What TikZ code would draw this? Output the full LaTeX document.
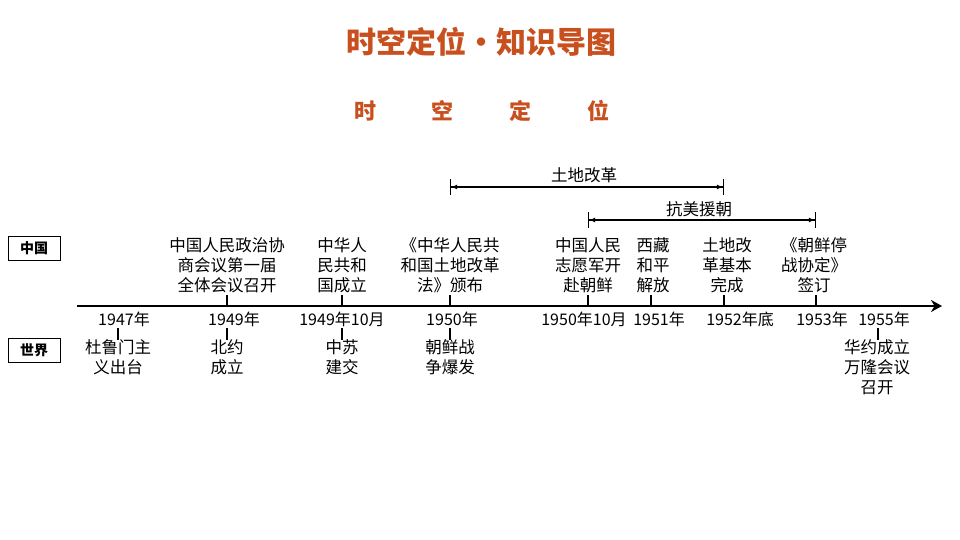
\documentclass[tikz,border=0pt]{standalone}
\usepackage{fontspec}
\setmainfont{Noto Sans CJK SC}
\usetikzlibrary{arrows.meta}
\definecolor{titlec}{RGB}{200,80,30}
\begin{document}
\begin{tikzpicture}[x=1pt,y=-1pt,
 ev/.style={font=\fontsize{16.5}{20}\selectfont,align=center,inner sep=0pt},
 yr/.style={font=\fontsize{16}{18}\selectfont,inner sep=0pt},
 lbox/.style={draw,line width=0.8pt,minimum width=52pt,minimum height=24pt,inner sep=0pt,font=\fontsize{14}{16}\bfseries\selectfont},
 tk/.style={line width=2pt},
 span/.style={line width=1.1pt,{Bar[width=16pt]Latex[length=6pt,width=5pt]}-{Latex[length=6pt,width=5pt]Bar[width=16pt]}}]
\useasboundingbox (0,0) rectangle (960,540);
\node[font=\fontsize{30}{33}\bfseries\selectfont,text=titlec] (t1) at (481,42) {时空定位•知识导图};
\node[font=\fontsize{22}{25}\bfseries\selectfont,text=titlec] (t2) at (482,111) {时\hspace{56pt}空\hspace{56pt}定\hspace{56pt}位};
\node[lbox] (cn) at (34,248) {中国};
\node[lbox] (wd) at (34,350) {世界};
\coordinate (a0) at (77,306); \coordinate (a1) at (942,306);
\draw[line width=2.2pt,-{Stealth[length=11pt,width=12pt]}] (a0) -- (a1);
\foreach \n/\x/\t in {p/227/{中国人民政治协\\商会议第一届\\全体会议召开},q/342/{中华人\\民共和\\国成立},r/450/{《中华人民共\\和国土地改革\\法》颁布},s/588/{中国人民\\志愿军开\\赴朝鲜},u/653/{西藏\\和平\\解放},v/727/{土地改\\革基本\\完成},w/814/{《朝鲜停\\战协定》\\签订}}{
 \node[ev,anchor=south] (\n) at (\x,293) {\t};
}
\foreach \n/\x in {p/227,q/342,r/450,s/588,u/651,v/724,w/816}{
 \coordinate (\n a) at (\x,295); \coordinate (\n b) at (\x,306);
 \draw[tk] (\n a) -- (\n b);
}
\foreach \n/\x/\t in {y1/124/1947年,y2/234/1949年,y3/342/1949年10月,y4/452/1950年,y5/584/1950年10月,y6/659/1951年,y7/740/1952年底,y8/822/1953年,y9/884/1955年}{
 \node[yr] (\n) at (\x,319) {\t};}
\foreach \n/\x/\t in {b1/118/{杜鲁门主\\义出台},b2/227/{北约\\成立},b3/342/{中苏\\建交},b4/450/{朝鲜战\\争爆发},b9/877/{华约成立\\万隆会议\\召开}}{
 \node[ev,anchor=north] (\n) at (\x,339) {\t};
}
\foreach \n/\x in {b1/118,b2/227,b3/342,b4/450,b9/878}{
 \coordinate (\n a) at (\x,328); \coordinate (\n b) at (\x,340);
 \draw[tk] (\n a) -- (\n b);
}
\coordinate (l1) at (450,187); \coordinate (l2) at (724,187);
\draw[span] (l1) -- (l2);
\node[ev] (lt) at (584,175) {土地改革};
\coordinate (k1) at (588,220); \coordinate (k2) at (816,220);
\draw[span] (k1) -- (k2);
\node[ev] (kt) at (699,209) {抗美援朝};
\end{tikzpicture}
\end{document}
